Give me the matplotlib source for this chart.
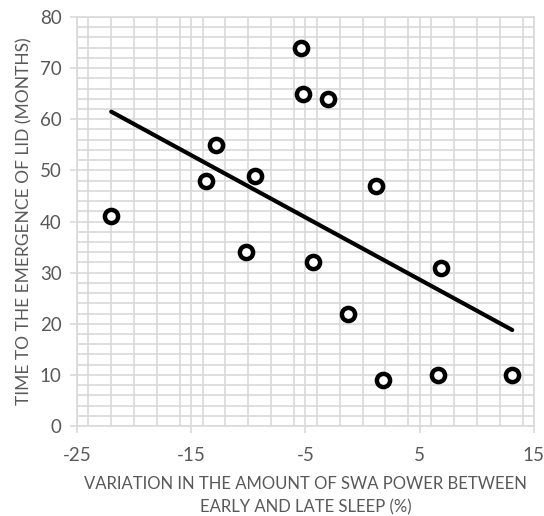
import numpy as np
import matplotlib.pyplot as plt
from matplotlib.ticker import MultipleLocator

GREY_TEXT = "#595959"
GRID = "#d9d9d9"

# variation in SWA power (%) and time to LID (months)
swa_var = [-22.0, -13.7, -12.8, -9.4, -10.2, -5.4, -5.2, -3.0, -4.3, -1.3, 1.2, 1.8, 6.6, 6.9, 13.1]
lid_months = [41, 48, 55, 49, 34, 74, 65, 64, 32, 22, 47, 9, 10, 31, 10]

x_ticks = [-25, -15, -5, 5, 15]
y_ticks = [0, 10, 20, 30, 40, 50, 60, 70, 80]

plt.rcParams['font.family'] = ['Lato', 'DejaVu Sans']
plt.rcParams['axes.unicode_minus'] = False

fig = plt.figure(figsize=(5.44, 5.16), dpi=100)
ax = fig.add_axes([0.1415, 0.1744, 0.84, 0.7926])

# linear trendline over the data range
x = np.array(swa_var)
slope, intercept = np.polyfit(x, np.array(lid_months), 1)
xs = np.array([x.min(), x.max()])
ax.plot(xs, slope * xs + intercept, color="black", lw=3, solid_capstyle='round', zorder=3)

ax.plot(swa_var, lid_months, 'o', ms=9.5, mfc='white', mec='black', mew=3.2, zorder=4)

ax.set_xlim(-25, 15)
ax.set_ylim(0, 80)
ax.set_xticks(x_ticks)
ax.set_yticks(y_ticks)
ax.xaxis.set_minor_locator(MultipleLocator(2))
ax.yaxis.set_minor_locator(MultipleLocator(2))
ax.grid(True, which='both', color=GRID, lw=1.2)
ax.set_axisbelow(True)

for s in ax.spines.values():
    s.set_color(GRID)
    s.set_linewidth(1.2)

ax.tick_params(which='major', colors=GRID, length=5, width=1.2, labelcolor=GREY_TEXT,
               labelsize=13.5, pad=6)
ax.tick_params(axis='x', which='major', pad=10)
ax.tick_params(which='minor', length=0)

# two-line x label, placed line by line
xc = 0.1415 + 0.84 / 2
fig.text(xc, 0.062, "VARIATION IN THE AMOUNT OF SWA POWER BETWEEN",
         color=GREY_TEXT, fontsize=12, ha='center', va='center')
fig.text(xc, 0.0165, "EARLY AND LATE SLEEP (%)",
         color=GREY_TEXT, fontsize=12, ha='center', va='center')
ax.set_ylabel("TIME TO THE EMERGENCE OF LID (MONTHS)", color=GREY_TEXT, fontsize=12.5, labelpad=5)

fig.savefig("out.png", dpi=100)
